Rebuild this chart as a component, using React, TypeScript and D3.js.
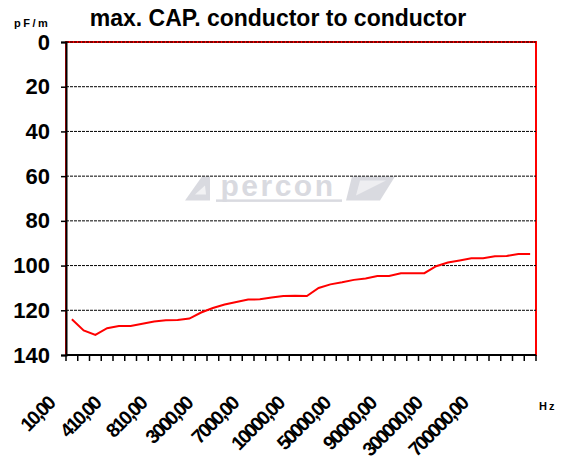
import React from "react";
import * as d3 from "d3";

// pF/m, one per frequency step
const capValues = [
  124, 129, 131, 128, 127, 127, 126, 125, 124.5, 124.3,
  123.7, 121, 119, 117.4, 116.3, 115.2, 115.1, 114.3, 113.6, 113.5,
  113.6, 110, 108.4, 107.5, 106.4, 105.8, 104.7, 104.7, 103.4, 103.4,
  103.4, 100.3, 98.6, 97.7, 96.7, 96.7, 95.8, 95.7, 94.8, 94.8,
];
// only every 4th frequency gets a label on the axis
const freqLabels = [
  "10,00", "410,00", "810,00", "3000,00", "7000,00",
  "10000,00", "50000,00", "90000,00", "300000,00", "700000,00",
];
const labelStep = 4;
const yTicks = [0, 20, 40, 60, 80, 100, 120, 140];

const W = 564;
const H = 465;
const margin = { left: 66, right: 28, top: 42, bottom: 110 };
const FONT = "Liberation Sans, Arial, sans-serif";

const App = () => {
  const svgRef = React.useRef(null);

  React.useEffect(() => {
    const width = W - margin.left - margin.right;
    const height = H - margin.top - margin.bottom;
    const cats = capValues.map((_, i) => i);

    const x = d3.scaleBand().domain(cats).range([0, width]);
    const y = d3.scaleLinear().domain([0, 140]).range([0, height]);

    const svgEl = d3.select(svgRef.current);
    svgEl.selectAll("*").remove();
    const svg = svgEl.append("g")
      .attr("transform", `translate(${margin.left},${margin.top})`);

    // plot frame (red border)
    svg.append("rect")
      .attr("width", width)
      .attr("height", height)
      .attr("fill", "white")
      .attr("stroke", "#ff0000")
      .attr("stroke-width", 2);

    // watermark logo
    const wm = svg.append("g")
      .attr("transform", `translate(${212}, ${y(69.5)})`)
      .attr("fill", "#d9dae0");
    wm.append("path").attr("d", "M-93,3 L-76,-21 L-68,-21 L-68,3 Z");
    wm.append("path").attr("d", "M-83,-3 L-73,-12 L-72,-3 Z").attr("fill", "#f2f2f4");
    wm.append("path").attr("d", "M68,3 L74,-21 L117,-21 L102,3 Z");
    wm.append("path").attr("d", "M78,-2 L82,-17 L108,-17 Z").attr("fill", "#eeeef1");
    wm.append("text")
      .attr("text-anchor", "middle")
      .attr("y", -1)
      .attr("x", 0)
      .attr("font-family", FONT)
      .attr("font-weight", "bold")
      .attr("font-size", 30)
      .attr("letter-spacing", 2.5)
      .text("percon");
    wm.append("rect").attr("x", -62).attr("y", 2).attr("width", 126).attr("height", 2.5);

    // dashed gridlines
    svg.append("g")
      .selectAll("line")
      .data(yTicks.slice(0, -1))
      .enter()
      .append("line")
      .attr("x1", 0)
      .attr("x2", width)
      .attr("y1", (d) => y(d))
      .attr("y2", (d) => y(d))
      .attr("stroke", "#000")
      .attr("stroke-width", 1)
      .attr("stroke-dasharray", "3,1");

    // Y axis
    const yAxis = d3.axisLeft(y).tickValues(yTicks).tickSize(5).tickPadding(11);
    const yG = svg.append("g").call(yAxis);
    yG.select(".domain").attr("stroke", "#000").attr("stroke-width", 2);
    yG.selectAll("line").attr("stroke", "#000").attr("stroke-width", 1.5);
    yG.selectAll("text")
      .attr("fill", "#000")
      .attr("font-family", FONT)
      .attr("font-weight", "bold")
      .attr("font-size", 22);

    // X axis with ticks between categories
    const xG = svg.append("g").attr("transform", `translate(0,${height})`);
    xG.append("line")
      .attr("x1", 0).attr("x2", width)
      .attr("stroke", "#000").attr("stroke-width", 2);
    const tickPos = d3.range(cats.length + 1).map((i) => i * x.step());
    xG.selectAll(".tk")
      .data(tickPos)
      .enter()
      .append("line")
      .attr("x1", (d) => d).attr("x2", (d) => d)
      .attr("y1", 0).attr("y2", 6)
      .attr("stroke", "#000").attr("stroke-width", 1.5);
    xG.selectAll(".lbl")
      .data(freqLabels)
      .enter()
      .append("text")
      .attr("transform", (d, i) => {
        const cx = x(i * labelStep) + x.bandwidth() / 2 - 16 - i * 1.1;
        return `translate(${cx},${50}) rotate(-45)`;
      })
      .attr("text-anchor", "end")
      .attr("font-family", FONT)
      .attr("font-weight", "bold")
      .attr("font-size", 19.5)
      .attr("letter-spacing", -2)
      .attr("fill", "#000")
      .text((d) => d);

    // the series
    const line = d3.line()
      .x((d, i) => x(i) + x.bandwidth() / 2)
      .y((d) => y(d));
    svg.append("path")
      .datum(capValues)
      .attr("fill", "none")
      .attr("stroke", "#ff0000")
      .attr("stroke-width", 2)
      .attr("d", line);

    // titles
    svgEl.append("text")
      .attr("x", 278).attr("y", 26)
      .attr("text-anchor", "middle")
      .attr("font-family", FONT)
      .attr("font-weight", "bold")
      .attr("font-size", 23)
      .text("max. CAP. conductor to conductor");
    svgEl.append("text")
      .attr("x", 14).attr("y", 27)
      .attr("font-family", FONT)
      .attr("font-weight", "bold")
      .attr("font-size", 11)
      .attr("letter-spacing", 2.5)
      .text("pF/m");
    svgEl.append("text")
      .attr("x", 539).attr("y", 410)
      .attr("font-family", FONT)
      .attr("font-weight", "bold")
      .attr("font-size", 11)
      .attr("letter-spacing", 2)
      .text("Hz");
  }, []);

  return (
    <svg
      ref={svgRef}
      width={W}
      height={H}
      style={{ position: "absolute", left: 0, top: 0, background: "white" }}
    />
  );
};

export default App;
